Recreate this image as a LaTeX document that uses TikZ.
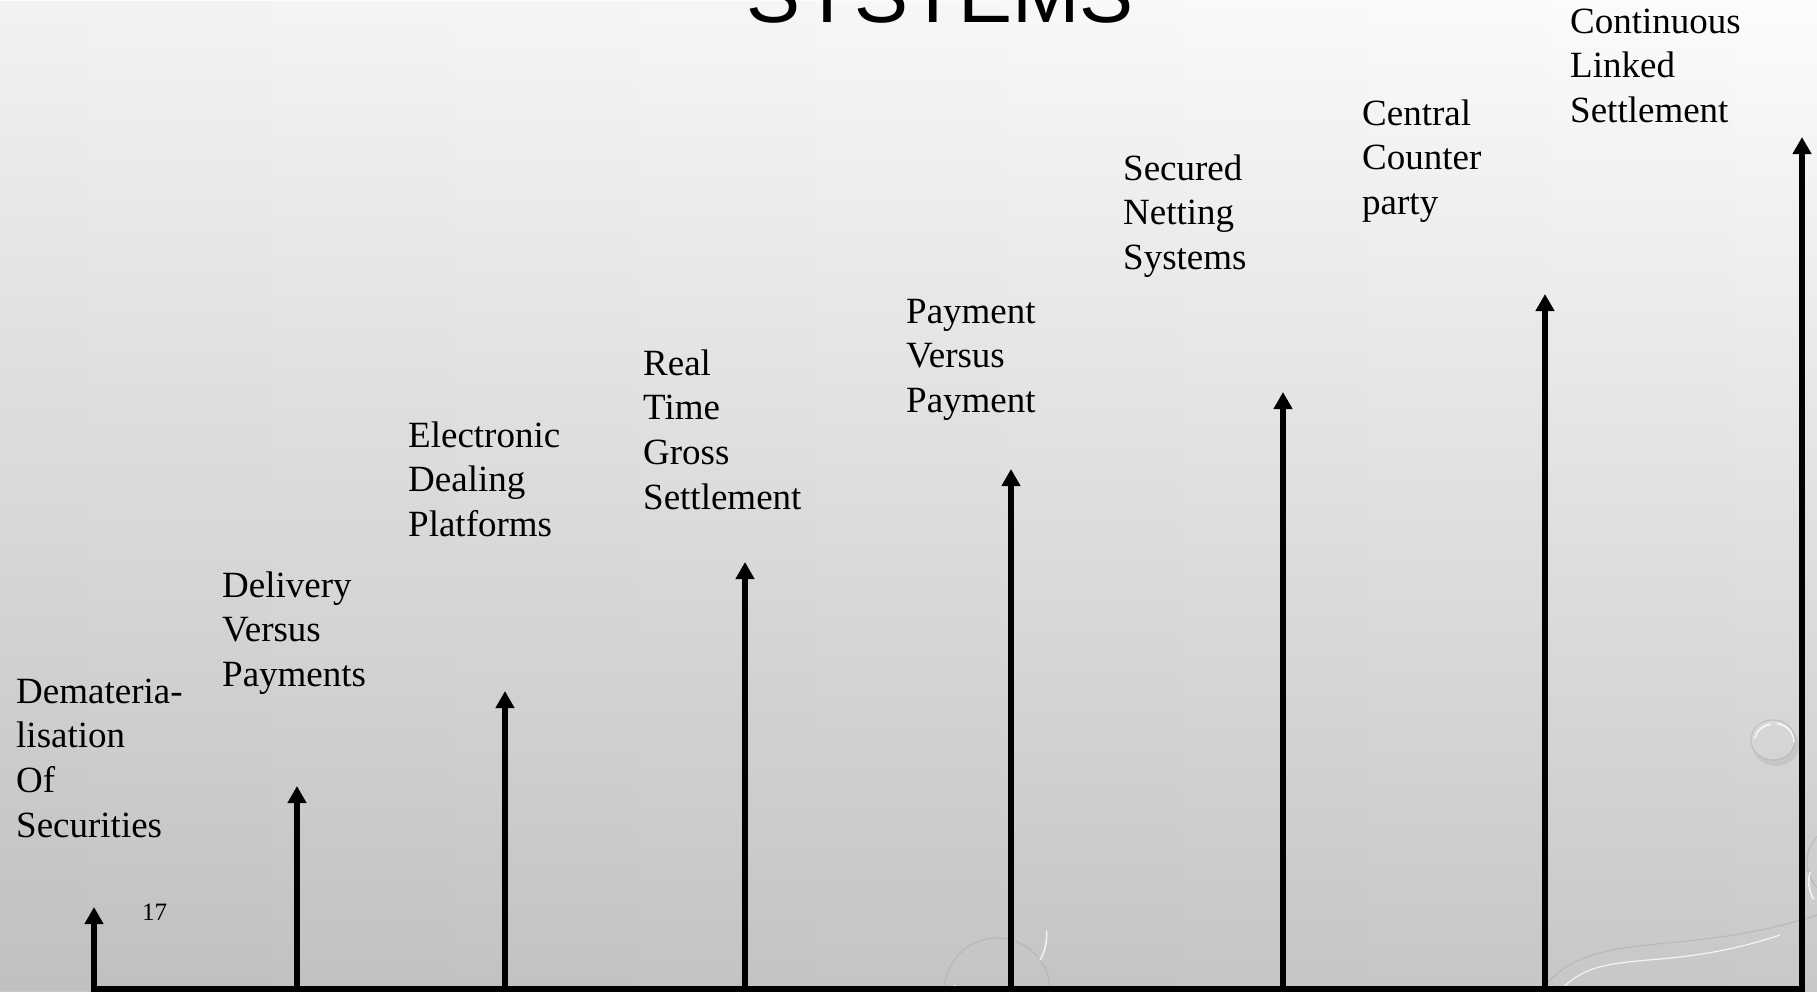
\documentclass[tikz,border=0pt]{standalone}
\usepackage{fontspec}
\setmainfont{Liberation Serif}
\newfontfamily\titlefont{Liberation Sans}
\usetikzlibrary{arrows.meta,fadings}
\definecolor{bgtop}{HTML}{FCFCFC}
\definecolor{bgmid}{HTML}{E2E2E2}
\definecolor{bgbot}{HTML}{C8C8C8}
\tikzset{
  lbl/.style={anchor=north west, inner sep=0pt, align=left,
    font=\fontsize{37}{44.8}\selectfont},
  uparrow/.style={line width=5.5pt, -{Triangle[width=18pt,length=17pt]}},
  axisline/.style={line width=5.5pt},
  drop/.style={draw=white, line width=1.6pt, opacity=0.8},
  dropshade/.style={draw=black!35, line width=1.2pt, opacity=0.45}
}
\begin{document}
\begin{tikzpicture}[x=1pt,y=-1pt]
\useasboundingbox (0,0) rectangle (1817,991);
% background
\shade[top color=bgtop, middle color=bgmid, bottom color=bgbot] (0,0) rectangle (1817,991);
\fill[black, opacity=0.04, path fading=east] (0,0) rectangle (1817,991);
% water drops (decoration)
\fill[black!30, opacity=0.4] (1776,746) ellipse [x radius=23, y radius=20];
\fill[black!14, opacity=0.7] (1773,740) ellipse [x radius=22, y radius=20];
\draw[dropshade] (1773,740) ellipse [x radius=22, y radius=20];
\draw[drop] (1755,738) arc[start angle=190, end angle=260, x radius=19, y radius=17];
\draw[drop] (1794,742) arc[start angle=0, end angle=-80, x radius=21, y radius=19];
\draw[dropshade] (997,991) circle (53);
\draw[drop] (955,985) arc[start angle=190, end angle=120, radius=47];
\draw[drop] (1040,960) arc[start angle=30, end angle=-5, radius=50];
\draw[dropshade] (1845,862) circle (38);
\draw[drop] (1810,872) arc[start angle=195, end angle=150, radius=36];
\draw[drop, line width=1.2pt] (1560,991) .. controls (1600,945) and (1660,975) .. (1780,935);
\draw[dropshade] (1540,991) .. controls (1590,925) and (1680,960) .. (1817,915);
% title (cut off at top)
\node[anchor=base, inner sep=0pt, font=\titlefont\fontsize{81}{90}\selectfont] (title) at (940,22) {SYSTEMS};
% labels
\node[lbl] (l1) at (16,671.6) {\strut Demateria-\\lisation\\Of\\Securities};
\node[lbl] (l2) at (222,565.6) {\strut Delivery\\Versus\\Payments};
\node[lbl] (l3) at (408,415.6) {\strut Electronic\\Dealing\\Platforms};
\node[lbl] (l4) at (643,343.6) {\strut Real\\Time\\Gross\\Settlement};
\node[lbl] (l5) at (906,291.6) {\strut Payment\\Versus\\Payment};
\node[lbl] (l6) at (1123,148.6) {\strut Secured\\Netting\\Systems};
\node[lbl] (l7) at (1362,93.6) {\strut Central\\Counter\\party};
\node[lbl] (l8) at (1570,1.6) {\strut Continuous\\Linked\\Settlement};
\node[anchor=base west, inner sep=0pt, font=\fontsize{25}{30}\selectfont] (pg) at (142,920) {17};
% axis coordinates
\coordinate (b0) at (91,989);
\coordinate (b1) at (94,989);   \coordinate (t1) at (94,907);
\coordinate (b2) at (297,989);  \coordinate (t2) at (297,786);
\coordinate (b3) at (505,989);  \coordinate (t3) at (505,691);
\coordinate (b4) at (745,989);  \coordinate (t4) at (745,562);
\coordinate (b5) at (1011,989); \coordinate (t5) at (1011,469);
\coordinate (b6) at (1283,989); \coordinate (t6) at (1283,392);
\coordinate (b7) at (1545,989); \coordinate (t7) at (1545,294);
\coordinate (b8) at (1802,989); \coordinate (t8) at (1802,137);
\coordinate (b9) at (1805,989);
\draw[axisline] (b0) -- (b9);
\foreach \i in {1,...,8} {\draw[uparrow] (b\i) -- (t\i);}
\end{tikzpicture}
\end{document}
